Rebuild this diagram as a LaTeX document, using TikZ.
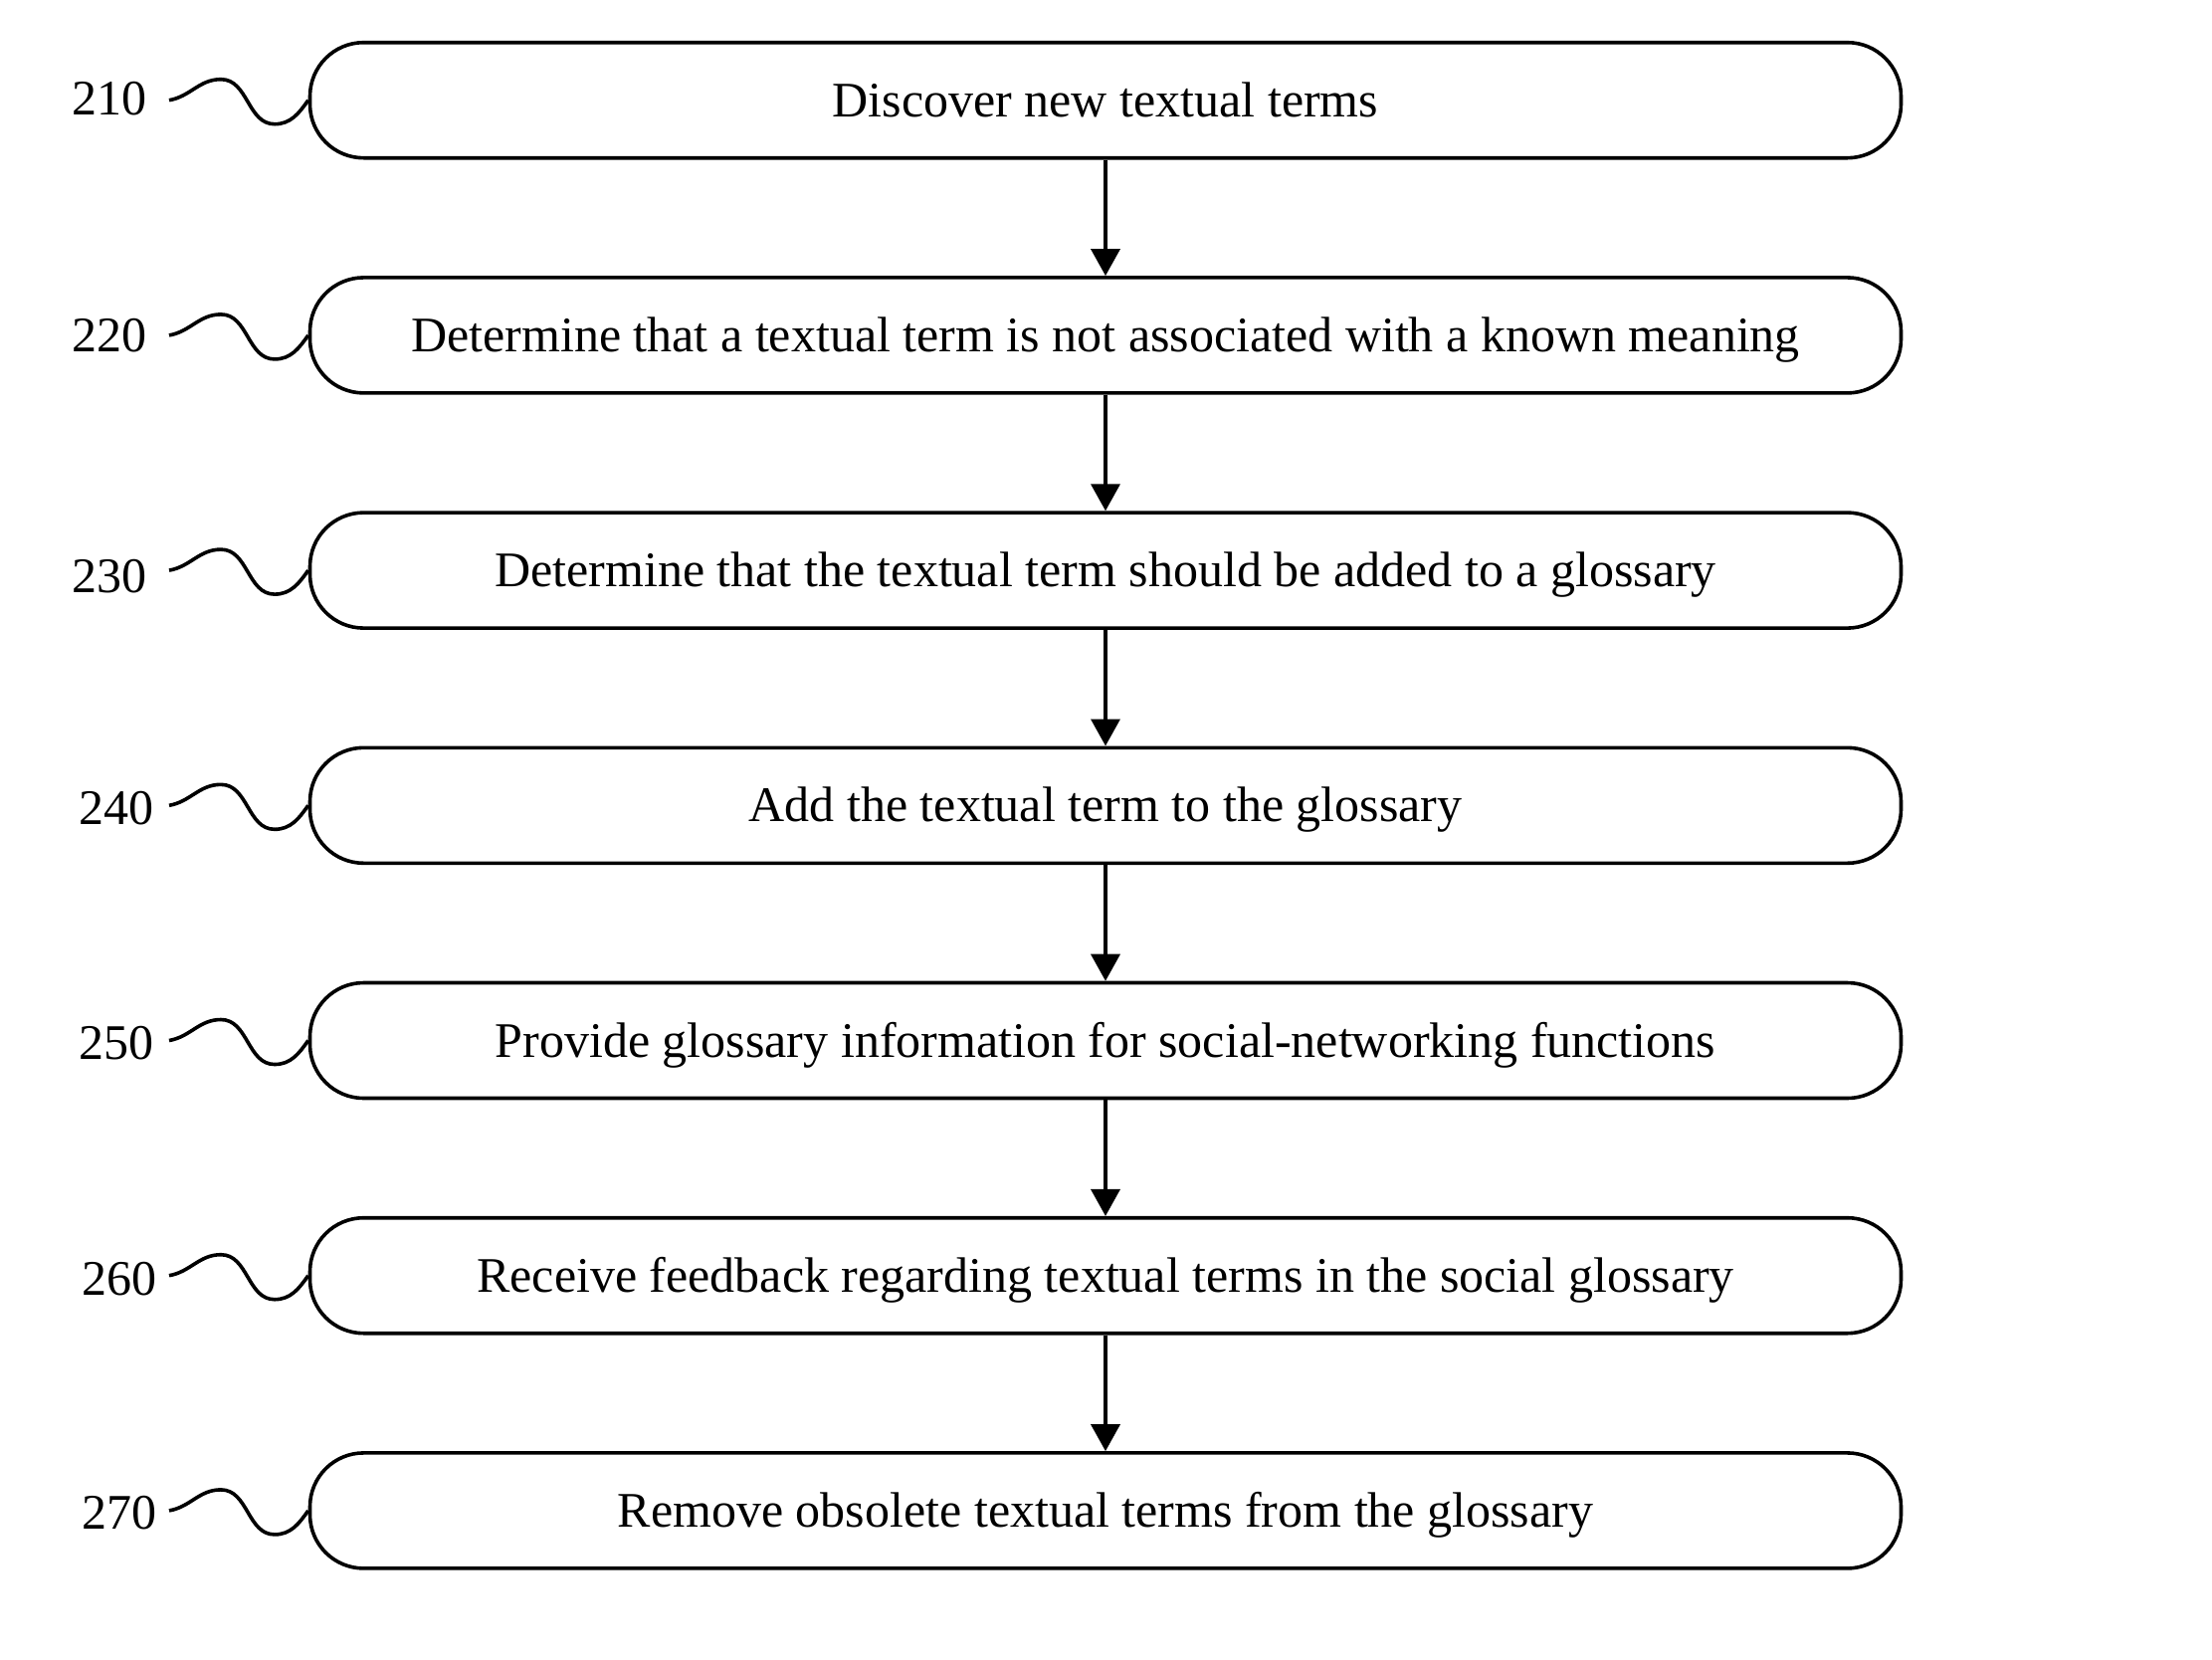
\documentclass[tikz,border=0pt]{standalone}
\usepackage{fontspec}
\setmainfont{Liberation Serif}
\usetikzlibrary{arrows.meta}
\tikzset{
  stepbox/.style={draw, line width=1.8pt, rounded corners=27pt, minimum width=799.5pt, minimum height=58pt, inner sep=0pt, align=center, text height=22.5pt, text depth=6pt, font=\fontsize{25}{30}\selectfont},
  reflabel/.style={inner sep=0pt, font=\fontsize{25}{30}\selectfont},
  squig/.style={line width=1.8pt},
  flow/.style={line width=1.8pt, -{Triangle[width=14.5pt,length=13.5pt]}}
}
\begin{document}
\begin{tikzpicture}[x=0.5pt,y=-0.5pt]
\useasboundingbox (0,0) rectangle (2223,1667);
\def\cx{1111}
% boxes
\node[stepbox] (b1) at (\cx,100.7)  {Discover new textual terms};
\node[stepbox] (b2) at (\cx,336.9)  {Determine that a textual term is not associated with a known meaning};
\node[stepbox] (b3) at (\cx,573.1)  {Determine that the textual term should be added to a glossary};
\node[stepbox] (b4) at (\cx,809.3)  {Add the textual term to the glossary};
\node[stepbox] (b5) at (\cx,1045.5) {Provide glossary information for social-networking functions};
\node[stepbox] (b6) at (\cx,1281.7) {Receive feedback regarding textual terms in the social glossary};
\node[stepbox] (b7) at (\cx,1517.9) {Remove obsolete textual terms from the glossary};
% reference labels
\node[reflabel] (l1) at (110,99.2)   {210};
\node[reflabel] (l2) at (110,336.9)  {220};
\node[reflabel] (l3) at (110,579)    {230};
\node[reflabel] (l4) at (117,812.4)  {240};
\node[reflabel] (l5) at (117,1048.5) {250};
\node[reflabel] (l6) at (120,1284.6) {260};
\node[reflabel] (l7) at (120,1519.7) {270};
% squiggles
\foreach \i/\y in {1/100.7,2/336.9,3/573.1,4/809.3,5/1045.5,6/1281.7,7/1517.9}{
  \coordinate (s\i) at (170,\y);
  \coordinate (p\i) at (222,\y-21);
  \coordinate (t\i) at (276,\y+24);
  \draw[squig] (s\i) to[out=10,in=180] (p\i) to[out=0,in=180] (t\i) to[out=0,in=235] (b\i.west);
}
% arrows
\foreach \a/\b in {b1/b2,b2/b3,b3/b4,b4/b5,b5/b6,b6/b7}{
  \draw[flow] (\a.south) -- (\b.north);
}
\end{tikzpicture}
\end{document}
